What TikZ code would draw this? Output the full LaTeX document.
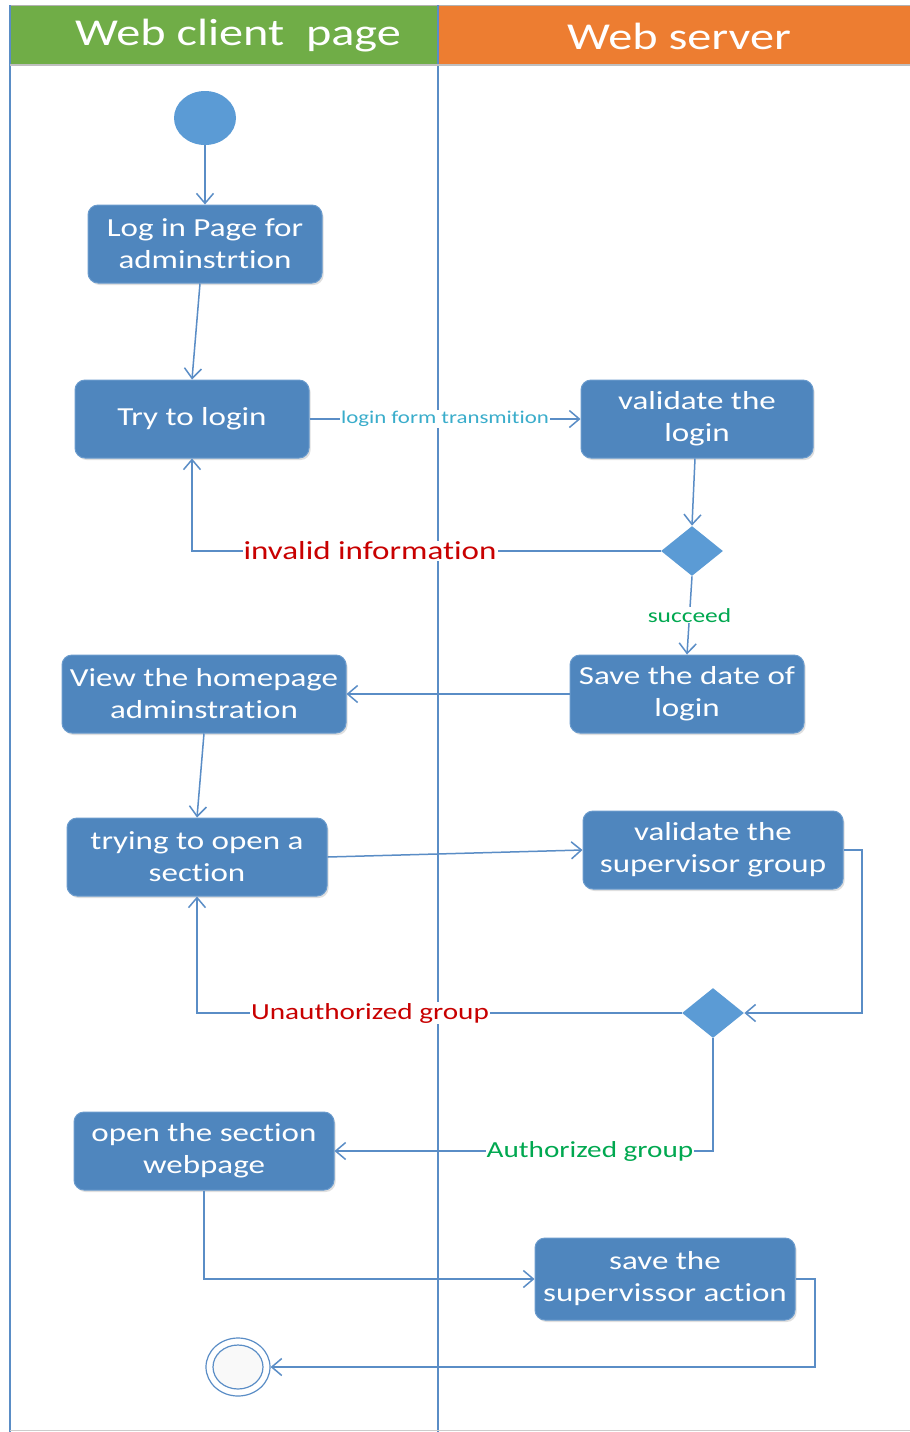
\documentclass[tikz,border=0pt]{standalone}
\usepackage{fontspec}
\setmainfont[FakeStretch=1.27, Ligatures=NoCommon]{Carlito}
\usetikzlibrary{arrows.meta,shapes.geometric,shadows}
\definecolor{boxfill}{HTML}{4F86BE}
\definecolor{boxedge}{HTML}{6A9BCD}
\definecolor{nodefill}{HTML}{5B9BD5}
\definecolor{linec}{HTML}{5A8DC6}
\definecolor{hgreen}{HTML}{70AD47}
\definecolor{horange}{HTML}{ED7D31}
\definecolor{lred}{HTML}{C80000}
\definecolor{lgreen}{HTML}{00A850}
\definecolor{lcyan}{HTML}{3AADCB}
\tikzset{
  actbox/.style={draw=boxedge, line width=0.5pt, fill=boxfill, rounded corners=5pt, text=white,
    font=\fontsize{13pt}{16pt}\selectfont, align=center, minimum height=39pt, inner sep=2pt,
    drop shadow={shadow xshift=0.8pt, shadow yshift=-1pt, opacity=0.25}},
  dec/.style={diamond, fill=nodefill, draw=none, minimum width=31pt, minimum height=25pt, inner sep=0pt, aspect=1.2},
  flow/.style={draw=linec, line width=0.75pt, -{Straight Barb[length=5pt,width=8.5pt]}},
  plain/.style={draw=linec, line width=0.75pt},
  lbl/.style={fill=white, inner sep=0.5pt},
}
\begin{document}
\begin{tikzpicture}[x=0.5pt,y=-0.5pt]
\useasboundingbox (0,0) rectangle (910,1432);
\fill[white] (0,0) rectangle (910,1432);
% header
\fill[hgreen] (10,5) rectangle (438,65);
\fill[horange] (438,5) rectangle (910,65);
\draw[gray!60, line width=0.4pt] (10,5) -- (910,5);
\node[text=white, font=\fontsize{19pt}{21pt}\selectfont] (h1) at (238,36) {Web client\ \ page};
\node[text=white, font=\fontsize{19pt}{21pt}\selectfont] (h2) at (679,36) {Web server};
% lanes
\draw[plain] (10,5) -- (10,1432);
\draw[plain] (438,5) -- (438,1432);
\draw[plain, draw=gray!50] (10,65) -- (910,65);
\draw[gray!40, line width=0.4pt] (10,1430) -- (910,1430);

% nodes
\node[ellipse, fill=nodefill, minimum width=31pt, minimum height=27pt, inner sep=0pt] (start) at (205,118) {};
\node[actbox, minimum width=117pt] (login) at (205,244) {Log in Page for\\adminstrtion};
\node[actbox, minimum width=117pt] (try) at (192,419) {Try to login};
\node[actbox, minimum width=116pt] (val) at (697,419) {validate the\\login};
\node[dec] (d1) at (692,551) {};
\node[actbox, minimum width=117pt] (save) at (687,694) {Save the date of\\login};
\node[actbox, minimum width=142pt] (home) at (204,694) {View the homepage\\adminstration};
\node[actbox, minimum width=130pt] (open) at (197,857) {trying to open a\\section};
\node[actbox, minimum width=130pt] (vsup) at (713,850) {validate the\\supervisor group};
\node[dec] (d2) at (713,1013) {};
\node[actbox, minimum width=130pt] (sect) at (204,1151) {open the section\\webpage};
\node[actbox, minimum width=130pt, minimum height=41pt] (ssup) at (665,1279) {save the\\supervissor action};
\node[ellipse, draw=linec, line width=0.6pt, minimum width=32pt, minimum height=29pt, inner sep=0pt] (end) at (238,1367) {};
\node[ellipse, draw=linec, line width=0.6pt, fill=gray!5, minimum width=25pt, minimum height=22pt, inner sep=0pt] at (end.center) {};

% connectors
\draw[flow] (start) -- (login);
\draw[flow] ([xshift=-2.5pt]login.south) -- (try.north);
\draw[flow] (try.east) -- node[lbl, text=lcyan, font=\fontsize{9pt}{10pt}\selectfont]{login form transmition} (val.west);
\draw[flow] ([xshift=-1pt]val.south) -- (d1.north);
\draw[flow] (d1.west) -- node[lbl, pos=0.62, text=lred, font=\fontsize{13pt}{15pt}\selectfont]{invalid information} (d1.west -| try.south) -- (try.south);
\draw[flow] (d1.south) -- node[lbl, text=lgreen, font=\fontsize{10pt}{12pt}\selectfont]{succeed} (save.north);
\draw[flow] (save.west) -- (home.east);
\draw[flow] (home.south) -- (open.north);
\draw[flow] (open.east) -- (vsup.west);
\coordinate (c1) at (862,850);
\draw[flow] (vsup.east) -- (c1) -- (c1 |- d2.east) -- (d2.east);
\draw[flow] (d2.west) -- node[lbl, pos=0.643, text=lred, font=\fontsize{11.5pt}{13pt}\selectfont]{Unauthorized group} (d2.west -| open.south) -- (open.south);
\draw[flow] (d2.south) -- (d2.south |- sect.east) -- node[lbl, pos=0.325, text=lgreen, font=\fontsize{11.5pt}{13pt}\selectfont]{Authorized group} (sect.east);
\draw[flow] (sect.south) -- (sect.south |- ssup.west) -- (ssup.west);
\coordinate (c2) at (815,1279);
\draw[flow] (ssup.east) -- (c2) -- (c2 |- end.east) -- (end.east);
\end{tikzpicture}
\end{document}
